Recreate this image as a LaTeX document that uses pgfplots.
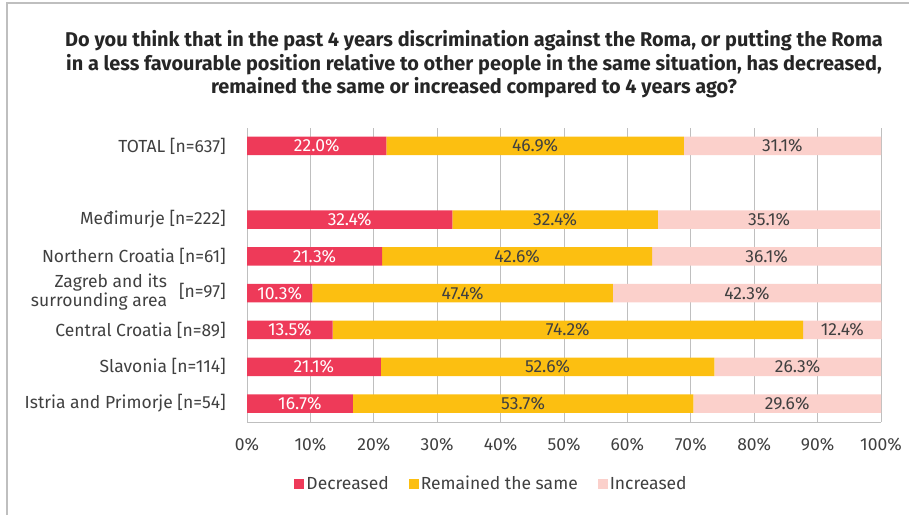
\documentclass[border=0pt]{standalone}
\usepackage{pgfplots}
\pgfplotsset{compat=1.18}
\usepackage{pgfplotstable}
\usepackage{fontspec}
\setmainfont{Fira Sans}
\definecolor{cRed}{HTML}{EE3A59}
\definecolor{cYel}{HTML}{FCBF11}
\definecolor{cPink}{HTML}{FBD0CB}
\definecolor{cTxt}{HTML}{404040}
\definecolor{cGrid}{HTML}{BFBFBF}

% positions: 7 = TOTAL, 5 = Medimurje ... 0 = Istria
\pgfplotstableread{
pos val
7 22.0
5 32.4
4 21.3
3 10.3
2 13.5
1 21.1
0 16.7
}\decr
\pgfplotstableread{
pos val
7 46.9
5 32.4
4 42.6
3 47.4
2 74.2
1 52.6
0 53.7
}\same
\pgfplotstableread{
pos val
7 31.1
5 35.1
4 36.1
3 42.3
2 12.4
1 26.3
0 29.6
}\incr

\begin{document}
\begin{tikzpicture}
\path[use as bounding box] (0pt,0pt) rectangle (909pt,-515pt);
\draw[color=black!25, line width=1.5pt] (7pt,-515pt) -- (7pt,-3pt) -- (909pt,-3pt);
\begin{scope}[every node/.style={anchor=base, text=black!85, inner sep=0pt, font=\fontsize{19.9}{23}\selectfont\bfseries}]
\node at (474pt,-46.7pt) {Do you think that in the past 4 years discrimination against the Roma, or putting the Roma};
\node at (474pt,-70pt) {in a less favourable position relative to other people in the same situation, has decreased,};
\node at (474pt,-93.3pt) {remained the same or increased compared to 4 years ago?};
\end{scope}
\begin{axis}[
  at={(247pt,-422pt)}, anchor=south west,
  scale only axis, width=635.27pt, height=294.5pt,
  xbar stacked, bar width=18.5pt,
  xmin=0, xmax=100.2, ymin=-0.5, ymax=7.5,
  xtick={0,10,...,100},
  xticklabel={\pgfmathprintnumber{\tick}\%},
  /pgf/number format/assume math mode=true,
  ytick={0,1,2,3,4,5,7},
  yticklabels={Istria and Primorje [n=54], Slavonia [n=114], Central Croatia [n=89],
    {\begin{tabular}{@{}r@{}}Zagreb and its\\surrounding area\end{tabular}\hspace{12pt}[n=97]},
    Northern Croatia [n=61], Međimurje [n=222], TOTAL [n=637]},
  major tick length=0pt,
  axis line style={draw=none},
  xmajorgrids, grid style={cGrid, line width=0.8pt},
  ticklabel style={font=\fontsize{17.5}{18}\selectfont, text=cTxt},
  yticklabel style={anchor=east, inner sep=0pt, xshift=-21pt, align=right},
  xticklabel style={anchor=center, inner sep=0pt, yshift=-23pt},
  nodes near coords={\pgfplotspointmeta\%},
  point meta=explicit symbolic,
  every node near coord/.append style={anchor=center,
     font=\fontsize{17.5}{18}\selectfont},
  legend columns=3,
  legend style={at={(0.385,-0.21)}, anchor=center, draw=none, fill=none,
    font=\fontsize{17.5}{18}\selectfont, text=cTxt,
    /tikz/every even column/.append style={column sep=18pt},
    nodes={inner sep=2pt}},
  legend image code/.code={\fill[#1,draw=none] (0pt,-5pt) rectangle (10pt,5pt);},
]
\addplot[fill=cRed, draw=none, every node near coord/.append style={text=white}]
  table[x=val, y=pos, meta=val] {\decr};
\addplot[fill=cYel, draw=none, every node near coord/.append style={text=cTxt}]
  table[x=val, y=pos, meta=val] {\same};
\addplot[fill=cPink, draw=none, every node near coord/.append style={text=cTxt}]
  table[x=val, y=pos, meta=val] {\incr};
\legend{Decreased, Remained the same, Increased}
\draw[cGrid, line width=0.8pt] (axis cs:0,-0.5) -- (axis cs:100,-0.5);
\end{axis}
\end{tikzpicture}
\end{document}
